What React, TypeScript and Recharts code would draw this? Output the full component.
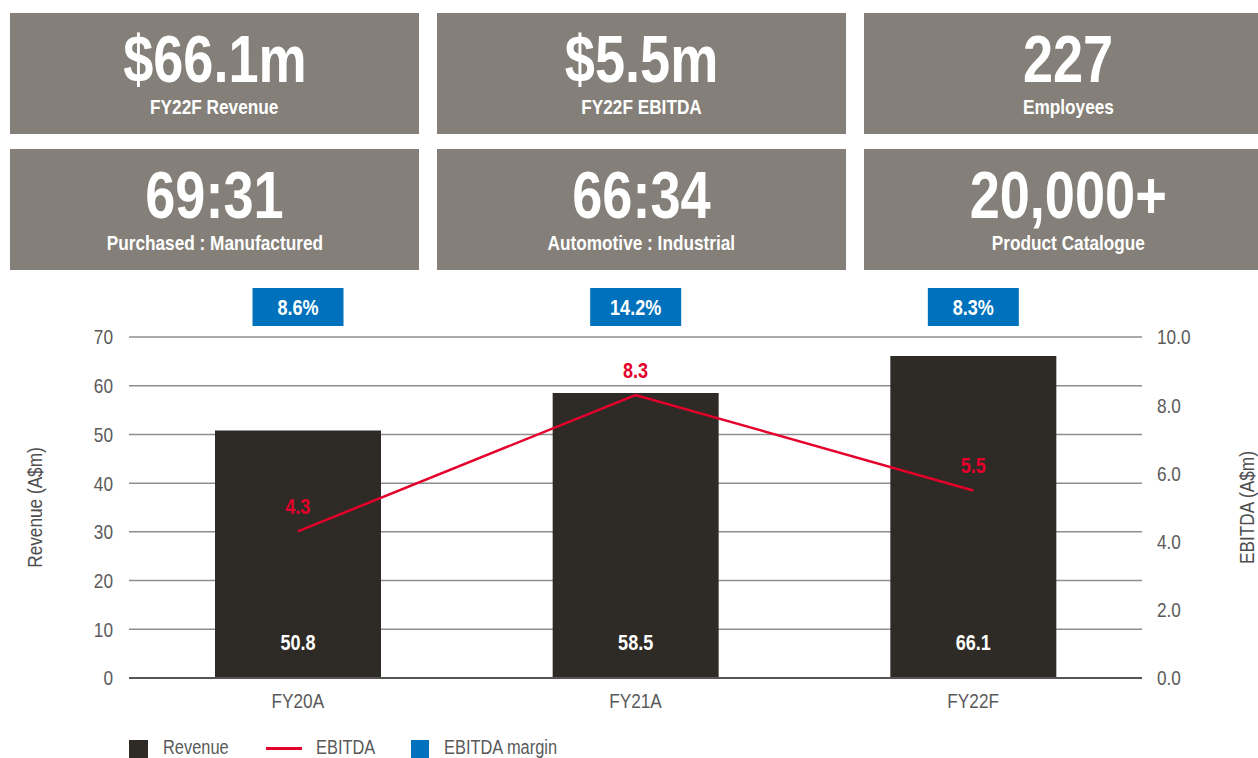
import React from "react";
import {
  ComposedChart,
  Bar,
  Line,
  XAxis,
  YAxis,
  CartesianGrid,
  LabelList,
  ReferenceLine,
} from "recharts";

const years = ["FY20A", "FY21A", "FY22F"];
const revenue = [50.8, 58.5, 66.1];
const ebitda = [4.3, 8.3, 5.5];
const ebitdaMargin = [8.6, 14.2, 8.3];

const revenueTicks = [0, 10, 20, 30, 40, 50, 60, 70];
const ebitdaTicks = [0, 2, 4, 6, 8, 10];

const cardValues = ["$66.1m", "$5.5m", "227", "69:31", "66:34", "20,000+"];
const cardLabels = [
  "FY22F Revenue",
  "FY22F EBITDA",
  "Employees",
  "Purchased : Manufactured",
  "Automotive : Industrial",
  "Product Catalogue",
];

// no condensed font installed, so squeeze Liberation Sans horizontally
const FONT = '"Liberation Sans", Arial, sans-serif';
const SQUEEZE = 0.82;
const CARD_BG = "#847f79";
const BAR = "#2e2b26";
const RED = "#e4002b";
const BLUE = "#0071bc";
const GRID = "#8e8e8e";
const TEXT = "#5a5a5a";

const PLOT_TOP = 57;

const data = years.map((year, i) => ({
  year,
  revenue: revenue[i],
  ebitda: ebitda[i],
  margin: ebitdaMargin[i],
}));

function Narrow({ children, style }: { children: React.ReactNode; style?: React.CSSProperties }) {
  return (
    <span style={{ display: "inline-block", transform: `scaleX(${SQUEEZE})`, whiteSpace: "nowrap", ...style }}>
      {children}
    </span>
  );
}

function CText({
  x,
  y,
  anchor = "middle",
  size = 21,
  weight = 400,
  fill = TEXT,
  rotate = 0,
  dy = "0.35em",
  children,
}: {
  x: number;
  y: number;
  anchor?: string;
  size?: number;
  weight?: number;
  fill?: string;
  rotate?: number;
  dy?: string;
  children: React.ReactNode;
}) {
  const rot = rotate ? ` rotate(${rotate})` : "";
  return (
    <text
      transform={`translate(${x},${y})${rot} scale(${SQUEEZE},1)`}
      dy={dy}
      textAnchor={anchor as any}
      fill={fill}
      fontFamily={FONT}
      fontSize={size}
      fontWeight={weight}
    >
      {children}
    </text>
  );
}

function StatCard({ value, label, left, top }: { value: string; label: string; left: number; top: number }) {
  return (
    <div
      style={{
        position: "absolute",
        left,
        top,
        width: 409,
        height: 121,
        background: CARD_BG,
        color: "#fff",
        fontFamily: FONT,
        fontWeight: 700,
        textAlign: "center",
      }}
    >
      <div style={{ position: "absolute", left: 0, right: 0, top: 13, fontSize: 66, lineHeight: "66px" }}>
        <Narrow>{value}</Narrow>
      </div>
      <div style={{ position: "absolute", left: 0, right: 0, top: 83, fontSize: 21, lineHeight: "21px" }}>
        <Narrow>{label}</Narrow>
      </div>
    </div>
  );
}

const revenueValueLabel = (props: any) => {
  const { x, y, width, height, value } = props;
  return (
    <CText x={x + width / 2} y={y + height - 36} size={22} weight={700} fill="#fff">
      {value.toFixed(1)}
    </CText>
  );
};

const marginBox = (props: any) => {
  const { x, width, value } = props;
  const cx = x + width / 2;
  return (
    <g>
      <rect x={cx - 45.5} y={PLOT_TOP - 49} width={91} height={38} fill={BLUE} />
      <CText x={cx} y={PLOT_TOP - 30} size={22} weight={700} fill="#fff">
        {value.toFixed(1)}%
      </CText>
    </g>
  );
};

const ebitdaValueLabel = (props: any) => {
  const { x, y, value } = props;
  return (
    <CText x={x} y={y - 25} size={22} weight={700} fill={RED}>
      {value.toFixed(1)}
    </CText>
  );
};

const axisTitle = (text: string, dx: number) => (props: any) => {
  const { viewBox } = props;
  return (
    <CText x={viewBox.x + dx} y={viewBox.y + viewBox.height / 2} rotate={-90} size={21} fill="#4d4d4d">
      {text}
    </CText>
  );
};

const yTick = (fmt: (v: number) => string) => (props: any) => {
  const { x, y, payload, textAnchor } = props;
  return (
    <CText x={x} y={y} anchor={textAnchor}>
      {fmt(payload.value)}
    </CText>
  );
};

const xTick = (props: any) => {
  const { x, y, payload } = props;
  return (
    <CText x={x} y={y} dy="0.71em">
      {payload.value}
    </CText>
  );
};

const legendText = { position: "absolute" as const, top: 0, fontFamily: FONT, fontSize: 20, lineHeight: "20px", color: TEXT };

export default function App() {
  return (
    <div style={{ position: "absolute", left: 0, top: 0, width: 1258, height: 758, background: "#fff", overflow: "hidden" }}>
      {cardValues.map((v, i) => (
        <StatCard
          key={v}
          value={v}
          label={cardLabels[i]}
          left={10 + (i % 3) * 427}
          top={13 + Math.floor(i / 3) * 136}
        />
      ))}

      <div style={{ position: "absolute", left: 0, top: 280 }}>
        <ComposedChart
          width={1258}
          height={458}
          data={data}
          margin={{ top: PLOT_TOP, right: 0, left: 0, bottom: 0 }}
        >
          <CartesianGrid yAxisId="rev" vertical={false} stroke={GRID} strokeWidth={1.5} />
          <XAxis
            dataKey="year"
            axisLine={false}
            tickLine={false}
            tickSize={0}
            tickMargin={15}
            height={60}
            tick={xTick}
          />
          <YAxis
            yAxisId="rev"
            orientation="left"
            width={129}
            domain={[0, 70]}
            ticks={revenueTicks}
            axisLine={false}
            tickLine={false}
            tickSize={0}
            tickMargin={16}
            tick={yTick((v) => String(v))}
            label={{ content: axisTitle("Revenue (A$m)", 35) }}
          />
          <YAxis
            yAxisId="ebitda"
            orientation="right"
            width={116}
            domain={[0, 10]}
            ticks={ebitdaTicks}
            axisLine={false}
            tickLine={false}
            tickSize={0}
            tickMargin={15}
            tick={yTick((v) => v.toFixed(1))}
            label={{ content: axisTitle("EBITDA (A$m)", 105) }}
          />
          <ReferenceLine yAxisId="rev" y={0} stroke="#555" strokeWidth={2} />
          <Bar yAxisId="rev" dataKey="revenue" fill={BAR} barSize={166} isAnimationActive={false}>
            <LabelList dataKey="revenue" content={revenueValueLabel} />
            <LabelList dataKey="margin" content={marginBox} />
          </Bar>
          <Line
            yAxisId="ebitda"
            dataKey="ebitda"
            stroke={RED}
            strokeWidth={2.5}
            dot={false}
            activeDot={false}
            isAnimationActive={false}
          >
            <LabelList dataKey="ebitda" content={ebitdaValueLabel} />
          </Line>
        </ComposedChart>
      </div>

      <div style={{ position: "absolute", left: 0, top: 737, width: 1258, height: 21 }}>
        <span style={{ position: "absolute", left: 129, top: 3, width: 19, height: 19, background: BAR }} />
        <span style={{ ...legendText, left: 163 }}>
          <Narrow style={{ transformOrigin: "left center" }}>Revenue</Narrow>
        </span>
        <span style={{ position: "absolute", left: 266, top: 10, width: 36, height: 3, background: RED }} />
        <span style={{ ...legendText, left: 316 }}>
          <Narrow style={{ transformOrigin: "left center" }}>EBITDA</Narrow>
        </span>
        <span style={{ position: "absolute", left: 411, top: 3, width: 18, height: 19, background: BLUE }} />
        <span style={{ ...legendText, left: 444 }}>
          <Narrow style={{ transformOrigin: "left center" }}>EBITDA margin</Narrow>
        </span>
      </div>
    </div>
  );
}
